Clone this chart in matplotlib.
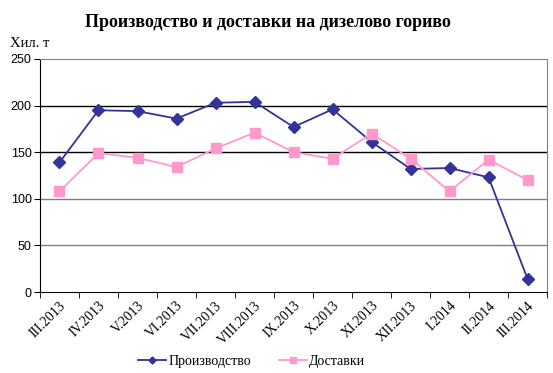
import matplotlib.pyplot as plt
import numpy as np

months = ['III.2013', 'IV.2013', 'V.2013', 'VI.2013', 'VII.2013', 'VIII.2013',
          'IX.2013', 'X.2013', 'XI.2013', 'XII.2013', 'I.2014', 'II.2014', 'III.2014']
production = [139, 195, 194, 186, 203, 204, 177, 196, 161, 132, 133, 123, 14]
deliveries = [108, 149, 144, 134, 154, 171, 150, 143, 170, 143, 108, 142, 120]

serif = 'Liberation Serif'
sans = 'Liberation Sans'

fig = plt.figure(figsize=(5.53, 3.73), dpi=100)
ax = fig.add_axes([0.0723, 0.217, 0.917, 0.625])

x = np.arange(len(months))
ax.plot(x, production, color='#333399', marker='D', markersize=6, linewidth=1.3,
        label='Производство')
ax.plot(x, deliveries, color='#FF99CC', marker='s', markersize=6.5, linewidth=1.3,
        label='Доставки')

ax.set_xlim(-0.5, len(months) - 0.5)
ax.set_ylim(0, 250)

for yv, c in [(50, '#808080'), (100, '#808080'), (150, 'black'), (200, 'black')]:
    ax.axhline(yv, color=c, linewidth=1, zorder=0)

ax.set_yticks([0, 50, 100, 150, 200, 250])
ax.tick_params(axis='y', direction='out', length=4, labelsize=9, pad=2)
for t in ax.get_yticklabels():
    t.set_family(sans)

ax.set_xticks(x)
ax.set_xticklabels(months, rotation=45, ha='right', rotation_mode='anchor',
                   fontsize=10, family=serif)
ax.tick_params(axis='x', length=0, pad=5)
ax.set_xticks(np.arange(-0.5, len(months)), minor=True)
ax.tick_params(axis='x', which='minor', direction='out', length=4)

for s in ['top', 'right']:
    ax.spines[s].set_color('#808080')
ax.spines['left'].set_color('black')
ax.spines['bottom'].set_color('black')

fig.text(0.484, 0.94, 'Производство и доставки на дизелово гориво',
         ha='center', va='center', fontsize=13, fontweight='bold', family=serif)
fig.text(0.018, 0.883, 'Хил. т', ha='left', va='center', fontsize=10.5, family=serif)

fig.legend(loc='center', bbox_to_anchor=(0.455, 0.032), ncol=2, frameon=False,
           prop={'family': serif, 'size': 10}, handlelength=2, columnspacing=2,
           handletextpad=0.2, markerscale=0.6)

fig.savefig('out.png', dpi=100)
